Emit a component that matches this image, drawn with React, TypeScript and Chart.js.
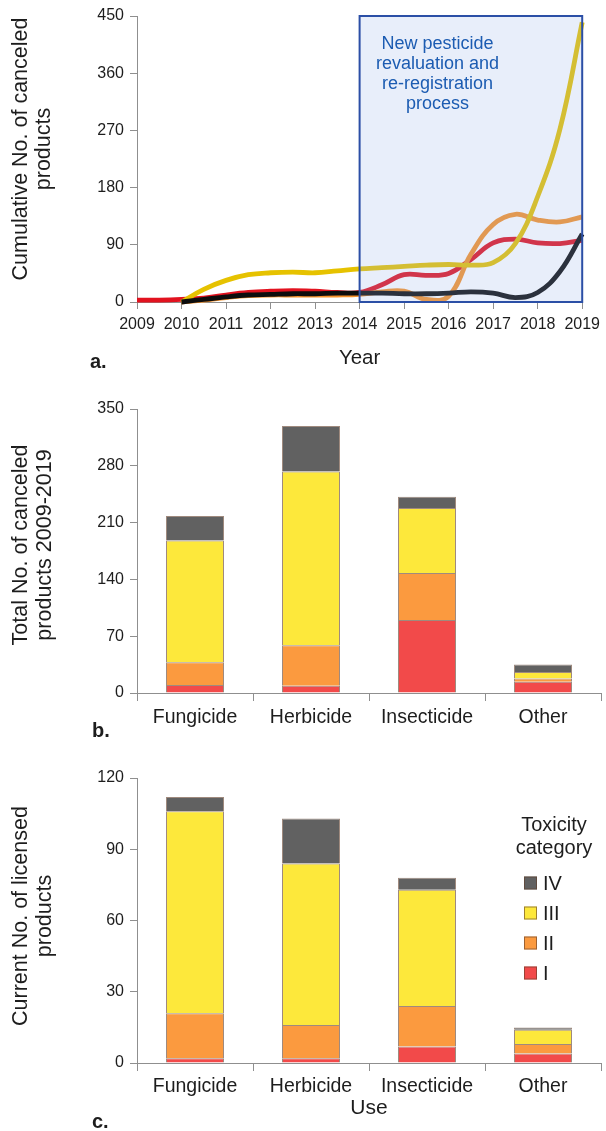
import React, { useEffect, useRef } from 'react';
import { Chart, registerables } from 'chart.js';

Chart.register(...registerables);

const FONT_FAMILY = "'Liberation Sans', Arial, Helvetica, sans-serif";
const TEXT = '#1d1d1d';
const AXIS = '#8f8f8f';

// ---- a. cumulative number of canceled products, read every half year ----
const yearSteps = [
  2009, 2009.5, 2010, 2010.5, 2011, 2011.5, 2012, 2012.5, 2013, 2013.5, 2014,
  2014.5, 2015, 2015.5, 2016, 2016.5, 2017, 2017.5, 2018, 2018.5, 2019,
];
const cumCatI = [3, 3, 4, 6, 11, 15, 17, 18, 17, 15, 15, 27, 43, 42, 45, 67, 93, 99, 93, 92, 97];
const cumCatII = [null, null, 0, 3, 7, 10, 11, 11, 11, 11, 12, 16, 17, 4, 9, 75, 122, 138, 129, 126, 134];
const cumCatIII = [null, null, 0, 20, 34, 43, 46, 47, 46, 49, 52, 54, 56, 58, 59, 58, 62, 92, 166, 272, 440];
const cumCatIV = [null, null, 0, 4, 8, 11, 12, 13, 13, 14, 14, 14, 13, 13, 14, 16, 14, 7, 15, 48, 107];
const yearTicks = [2009, 2010, 2011, 2012, 2013, 2014, 2015, 2016, 2017, 2018, 2019];
const cumulativeTicks = [0, 90, 180, 270, 360, 450];
const periodStart = 2014;
const periodEnd = 2019;
const periodNote = ['New pesticide', 'revaluation and', 're-registration', 'process'];

// ---- b. / c. products by use and toxicity category ----
const uses = ['Fungicide', 'Herbicide', 'Insecticide', 'Other'];
const toxicityLabels = ['I', 'II', 'III', 'IV'];
const canceledCatI = [10, 9, 90, 14];
const canceledCatII = [28, 50, 58, 4];
const canceledCatIII = [150, 214, 80, 8];
const canceledCatIV = [30, 56, 14, 9];
const canceledTicks = [0, 70, 140, 210, 280, 350];
const licensedCatI = [2, 2, 7, 4];
const licensedCatII = [19, 14, 17, 4];
const licensedCatIII = [85, 68, 49, 6];
const licensedCatIV = [6, 19, 5, 1];
const licensedTicks = [0, 30, 60, 90, 120];

const lineColors = ['#e2121f', '#f7922a', '#e6c200', '#0d0d0d'];
const barColors = ['#f24a4a', '#fb9a3f', '#fde83b', '#616161'];
const barBorder = 'rgba(95, 60, 40, 0.6)';

const font = (size: number, weight: string = 'normal') => ({ family: FONT_FAMILY, size, weight });

function drawYTitle(ctx: CanvasRenderingContext2D, lines: string[], xs: number[], cy: number) {
  ctx.save();
  ctx.fillStyle = TEXT;
  ctx.font = `21.5px ${FONT_FAMILY}`;
  ctx.textAlign = 'center';
  ctx.textBaseline = 'middle';
  lines.forEach((line, i) => {
    ctx.save();
    ctx.translate(xs[i], cy);
    ctx.rotate(-Math.PI / 2);
    ctx.fillText(line, 0, 0);
    ctx.restore();
  });
  ctx.restore();
}

function drawPanelTag(ctx: CanvasRenderingContext2D, tag: string, x: number, y: number) {
  ctx.save();
  ctx.fillStyle = TEXT;
  ctx.font = `bold 20px ${FONT_FAMILY}`;
  ctx.textAlign = 'left';
  ctx.textBaseline = 'alphabetic';
  ctx.fillText(tag, x, y);
  ctx.restore();
}

const valueAxis = (min: number, max: number, ticks: number[]) => ({
  min,
  max,
  afterBuildTicks: (s: any) => {
    s.ticks = ticks.map((v) => ({ value: v }));
  },
  ticks: { font: font(16), color: TEXT, padding: 6 },
  grid: { drawOnChartArea: false, drawTicks: true, tickLength: 7, color: AXIS },
  border: { color: AXIS, width: 1 },
  afterFit: (s: any) => {
    s.width = 137;
  },
});

function buildCumulative(): any {
  const pts = (vals: (number | null)[]) =>
    yearSteps.map((x, i) => ({ x, y: vals[i] })).filter((p) => p.y !== null);
  const series = [
    { label: 'IV', data: pts(cumCatIV), color: lineColors[3] },
    { label: 'III', data: pts(cumCatIII), color: lineColors[2] },
    { label: 'II', data: pts(cumCatII), color: lineColors[1] },
    { label: 'I', data: pts(cumCatI), color: lineColors[0] },
  ];
  return {
    type: 'line',
    data: {
      datasets: series.map((s) => ({
        label: s.label,
        data: s.data,
        borderColor: s.color,
        backgroundColor: s.color,
        borderWidth: 4.8,
        tension: 0.4,
        pointRadius: 0,
        fill: false,
        clip: false,
      })),
    },
    options: {
      responsive: false,
      animation: false,
      devicePixelRatio: 1,
      events: [],
      layout: { padding: { top: 16, right: 21, bottom: 0, left: 0 } },
      plugins: { legend: { display: false }, tooltip: { enabled: false } },
      scales: {
        x: {
          type: 'linear',
          min: 2009,
          max: 2019,
          afterBuildTicks: (s: any) => {
            s.ticks = yearTicks.map((v) => ({ value: v }));
          },
          ticks: {
            font: font(16),
            color: TEXT,
            padding: 6,
            maxRotation: 0,
            autoSkip: false,
            callback: (v: any) => String(v),
          },
          grid: { drawOnChartArea: false, drawTicks: true, tickLength: 7, color: AXIS },
          border: { color: AXIS, width: 1 },
          title: { display: true, text: 'Year', font: font(20.5), color: TEXT, padding: { top: 0, bottom: 4 } },
          afterFit: (s: any) => {
            s.height = 73;
          },
        },
        y: valueAxis(0, 450, cumulativeTicks),
      },
    },
    plugins: [
      {
        id: 'revaluationPeriod',
        afterDatasetsDraw(chart: any) {
          const { ctx, scales } = chart;
          const x = scales.x;
          const y = scales.y;
          const l = x.getPixelForValue(periodStart);
          const r = x.getPixelForValue(periodEnd);
          const t = y.getPixelForValue(450);
          const b = y.getPixelForValue(0);
          ctx.save();
          // translucent band over the lines for the re-registration period
          ctx.fillStyle = 'rgba(150, 178, 232, 0.22)';
          ctx.fillRect(l, t, r - l, b - t);
          ctx.strokeStyle = '#2b4fa6';
          ctx.lineWidth = 2;
          ctx.strokeRect(l, t, r - l, b - t);
          ctx.fillStyle = '#1c5cb2';
          ctx.font = `18px ${FONT_FAMILY}`;
          ctx.textAlign = 'center';
          ctx.textBaseline = 'middle';
          const cx = x.getPixelForValue(2015.75);
          const top = y.getPixelForValue(406);
          periodNote.forEach((line, i) => ctx.fillText(line, cx, top + i * 20));
          ctx.restore();
        },
      },
      {
        id: 'panelTexts',
        afterDraw(chart: any) {
          drawYTitle(chart.ctx, ['Cumulative No. of canceled', 'products'], [21, 44], 149);
          drawPanelTag(chart.ctx, 'a.', 90, 368);
        },
      },
    ],
  };
}

function buildStacked(opts: {
  values: number[][];
  ticks: number[];
  max: number;
  padTop: number;
  xHeight: number;
  labelPad: number;
  xTitle?: string;
  yTitle: string[];
  yTitleY: number;
  tag: string;
  tagY: number;
  legend: boolean;
}): any {
  return {
    type: 'bar',
    data: {
      labels: uses,
      datasets: toxicityLabels.map((label, i) => ({
        label,
        data: opts.values[i],
        backgroundColor: barColors[i],
        borderColor: barBorder,
        borderWidth: 1,
        barPercentage: 0.5,
        categoryPercentage: 1,
      })),
    },
    options: {
      responsive: false,
      animation: false,
      devicePixelRatio: 1,
      events: [],
      layout: { padding: { top: opts.padTop, right: 5, bottom: 0, left: 0 } },
      plugins: { legend: { display: false }, tooltip: { enabled: false } },
      scales: {
        x: {
          stacked: true,
          ticks: { font: font(19.5), color: TEXT, padding: opts.labelPad, maxRotation: 0, autoSkip: false },
          grid: { offset: true, drawOnChartArea: false, drawTicks: true, tickLength: 8, color: AXIS },
          border: { color: AXIS, width: 1 },
          title: opts.xTitle
            ? { display: true, text: opts.xTitle, font: font(21), color: TEXT, padding: { top: 0, bottom: 10 } }
            : { display: false },
          afterFit: (s: any) => {
            s.height = opts.xHeight;
          },
        },
        y: { stacked: true, ...valueAxis(0, opts.max, opts.ticks) },
      },
    },
    plugins: [
      {
        id: 'panelTexts',
        afterDraw(chart: any) {
          const ctx: CanvasRenderingContext2D = chart.ctx;
          drawYTitle(ctx, opts.yTitle, [21, 45], opts.yTitleY);
          drawPanelTag(ctx, opts.tag, 92, opts.tagY);
          if (!opts.legend) return;
          ctx.save();
          ctx.fillStyle = TEXT;
          ctx.font = `20px ${FONT_FAMILY}`;
          ctx.textAlign = 'center';
          ctx.textBaseline = 'middle';
          ctx.fillText('Toxicity', 554, 65);
          ctx.fillText('category', 554, 88);
          ctx.textAlign = 'left';
          const order = [3, 2, 1, 0];
          order.forEach((ds, row) => {
            const cy = 123 + row * 30;
            ctx.fillStyle = barColors[ds];
            ctx.fillRect(524, cy - 6.5, 13, 13);
            ctx.strokeStyle = barBorder;
            ctx.lineWidth = 1;
            ctx.strokeRect(524.5, cy - 6, 12, 12);
            ctx.fillStyle = TEXT;
            ctx.fillText(chart.data.datasets[ds].label, 543, cy + 1);
          });
          ctx.restore();
        },
      },
    ],
  };
}

function ChartCanvas({ top, height, build }: { top: number; height: number; build: () => any }) {
  const ref = useRef<HTMLCanvasElement>(null);
  useEffect(() => {
    const chart = new Chart(ref.current as HTMLCanvasElement, build());
    return () => chart.destroy();
  }, []);
  return (
    <canvas
      ref={ref}
      width={606}
      height={height}
      style={{ position: 'absolute', left: 0, top, width: 606, height, display: 'block' }}
    />
  );
}

export default function App() {
  return (
    <div style={{ position: 'absolute', left: 0, top: 0, width: 606, height: 1131, background: '#ffffff' }}>
      <ChartCanvas top={0} height={375} build={buildCumulative} />
      <ChartCanvas
        top={375}
        height={385}
        build={() =>
          buildStacked({
            values: [canceledCatI, canceledCatII, canceledCatIII, canceledCatIV],
            ticks: canceledTicks,
            max: 350,
            padTop: 34,
            xHeight: 67,
            labelPad: 5,
            yTitle: ['Total No. of canceled', 'products 2009-2019'],
            yTitleY: 170,
            tag: 'b.',
            tagY: 362,
            legend: false,
          })
        }
      />
      <ChartCanvas
        top={760}
        height={371}
        build={() =>
          buildStacked({
            values: [licensedCatI, licensedCatII, licensedCatIII, licensedCatIV],
            ticks: licensedTicks,
            max: 120,
            padTop: 18,
            xHeight: 68,
            labelPad: 4,
            xTitle: 'Use',
            yTitle: ['Current No. of licensed', 'products'],
            yTitleY: 156,
            tag: 'c.',
            tagY: 368,
            legend: true,
          })
        }
      />
    </div>
  );
}
